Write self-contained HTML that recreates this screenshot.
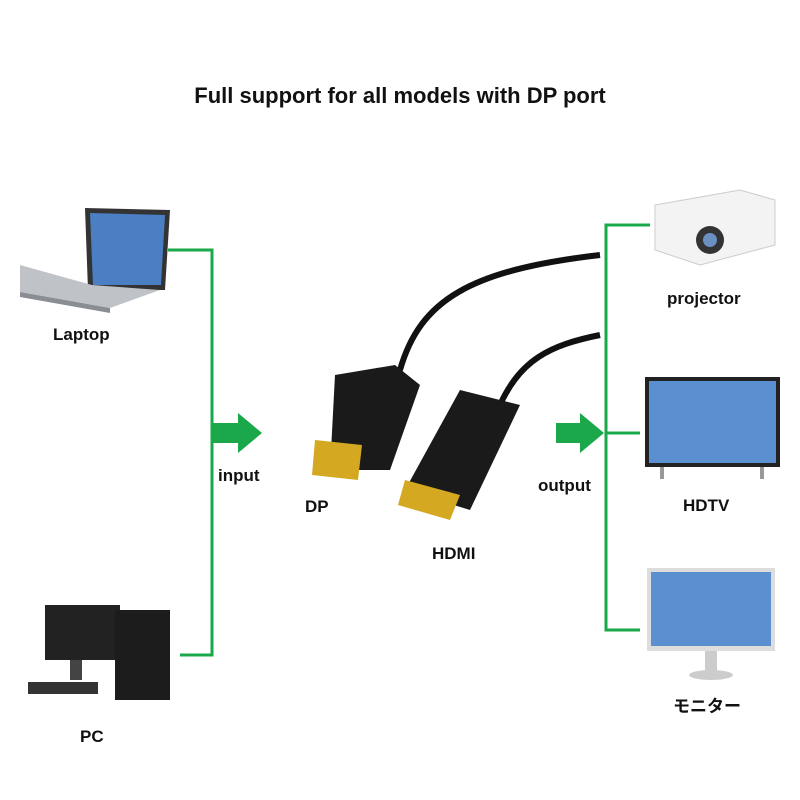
<!DOCTYPE html>
<html><head><meta charset="utf-8"><style>
body{margin:0;background:#fff;}
svg{display:block}
text{font-family:"Liberation Sans","Noto Sans CJK JP",sans-serif;font-weight:bold;fill:#111}
</style></head><body>
<svg width="800" height="800" viewBox="0 0 800 800">
<text x="400" y="103" font-size="22" text-anchor="middle">Full support for all models with DP port</text>
<g stroke="#1aa84a" stroke-width="3" fill="none">
<polyline points="168,250 212,250 212,655 180,655"/>
<polyline points="650,225 606,225 606,630 640,630"/>
<line x1="606" y1="433" x2="640" y2="433"/>
</g>
<polygon points="213,423 238,423 238,413 262,433 238,453 238,443 213,443" fill="#1aa84a"/>
<polygon points="556,423 580,423 580,413 604,433 580,453 580,443 556,443" fill="#1aa84a"/>
<!-- laptop -->
<polygon points="85,208 170,210 165,290 88,290" fill="#333"/>
<polygon points="90,213 165,215 161,285 93,285" fill="#4a7fc4"/>
<polygon points="20,265 92,285 160,290 110,308 20,292" fill="#bfc3c8"/>
<polygon points="20,292 110,308 110,313 20,297" fill="#8a8e94"/>
<!-- PC -->
<rect x="45" y="605" width="75" height="55" fill="#222"/>
<rect x="115" y="610" width="55" height="90" fill="#1c1c1c"/>
<rect x="28" y="682" width="70" height="12" fill="#333"/>
<rect x="70" y="660" width="12" height="20" fill="#444"/>
<!-- projector -->
<polygon points="655,205 740,190 775,200 775,245 700,265 655,250" fill="#f3f3f3" stroke="#ccc"/>
<circle cx="710" cy="240" r="14" fill="#333"/><circle cx="710" cy="240" r="7" fill="#6a8fc0"/>
<!-- HDTV -->
<rect x="645" y="377" width="135" height="90" fill="#222"/>
<rect x="649" y="381" width="127" height="82" fill="#5a8fd0"/>
<rect x="660" y="467" width="4" height="12" fill="#999"/><rect x="760" y="467" width="4" height="12" fill="#999"/>
<!-- monitor -->
<rect x="647" y="568" width="128" height="83" fill="#ddd"/>
<rect x="651" y="572" width="120" height="74" fill="#5a8fd0"/>
<rect x="705" y="651" width="12" height="20" fill="#ccc"/>
<ellipse cx="711" cy="675" rx="22" ry="5" fill="#ccc"/>
<!-- cables -->
<path d="M400,370 C420,300 470,270 600,255" stroke="#111" stroke-width="6" fill="none"/>
<path d="M500,405 C520,360 550,345 600,335" stroke="#111" stroke-width="6" fill="none"/>
<polygon points="335,375 395,365 420,385 390,470 330,470" fill="#1a1a1a"/>
<polygon points="315,440 362,445 358,480 312,475" fill="#d4a820"/>
<polygon points="460,390 520,405 470,510 405,490" fill="#1a1a1a"/>
<polygon points="405,480 460,495 450,520 398,505" fill="#d4a820"/>
<text x="53" y="340" font-size="17">Laptop</text>
<text x="80" y="742" font-size="17">PC</text>
<text x="218" y="481" font-size="17">input</text>
<text x="305" y="512" font-size="17">DP</text>
<text x="432" y="559" font-size="17">HDMI</text>
<text x="538" y="491" font-size="17">output</text>
<text x="667" y="304" font-size="17">projector</text>
<text x="683" y="511" font-size="17">HDTV</text>
<text x="673" y="712" font-size="17">モニター</text>
</svg>
</body></html>
